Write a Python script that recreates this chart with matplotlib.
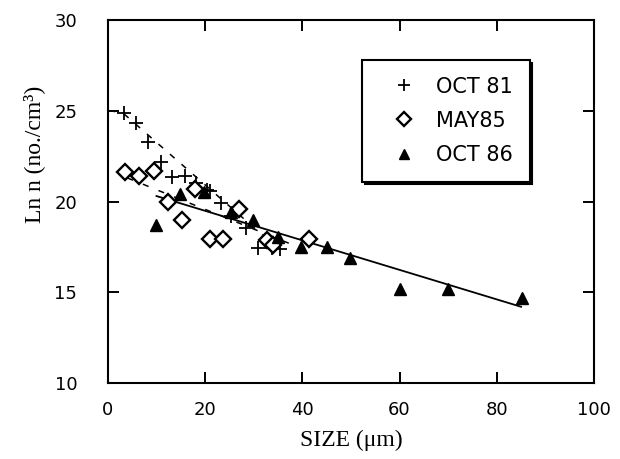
import matplotlib
matplotlib.use("Agg")
import matplotlib.pyplot as plt

# data (size in um, ln n)
oct81_x = [3.3, 5.8, 8.3, 11.0, 13.1, 15.8, 18.2, 20.3, 21.0, 23.2, 25.4, 28.4, 30.8, 33.7, 35.5]
oct81_y = [24.9, 24.3, 23.3, 22.2, 21.35, 21.4, 21.0, 20.65, 20.6, 19.9, 19.2, 18.55, 17.45, 17.45, 17.4]

may85_x = [3.5, 6.4, 9.5, 12.4, 15.2, 18.0, 21.0, 23.7, 27.0, 32.7, 34.0, 41.3]
may85_y = [21.6, 21.4, 21.7, 20.0, 19.0, 20.7, 17.95, 17.95, 19.6, 17.9, 17.6, 17.95]

oct86_x = [10.0, 14.8, 19.8, 25.3, 29.9, 35.0, 39.7, 45.0, 49.9, 60.0, 70.0, 85.1]
oct86_y = [18.7, 20.4, 20.5, 19.4, 19.0, 18.05, 17.5, 17.5, 16.9, 15.2, 15.2, 14.7]

# fitted lines (end points)
fit81_x = [0.3, 3.0, 35.0]
fit81_y = [25.0, 24.9, 17.4]
fit85_x = [4.0, 40.0]
fit85_y = [21.3, 17.4]
fit86_x = [10.0, 85.0]
fit86_y = [20.3, 14.2]

labels = ["OCT 81", "MAY85", "OCT 86"]

fig = plt.figure(figsize=(6.2, 4.59), dpi=100)
ax = fig.add_axes([0.174, 0.1656, 0.784, 0.7908])

ax.plot(fit81_x, fit81_y, color="black", lw=1.1, ls=(0, (4, 6)))
ax.plot(fit85_x, fit85_y, color="black", lw=1.1, ls=(0, (4, 7)))
ax.plot(fit86_x, fit86_y, color="black", lw=1.3)

h1, = ax.plot(oct81_x, oct81_y, ls="none", marker="+", ms=10, mew=1.3, color="black")
h2, = ax.plot(may85_x, may85_y, ls="none", marker="D", ms=8, mew=1.7, mfc="white", mec="black")
h3, = ax.plot(oct86_x, oct86_y, ls="none", marker="^", ms=9, color="black")

ax.set_xlim(0, 100)
ax.set_ylim(10, 30)
ax.set_xticks([0, 20, 40, 60, 80, 100])
ax.set_yticks([10, 15, 20, 25, 30])

for s in ax.spines.values():
    s.set_linewidth(1.5)
ax.tick_params(direction="in", length=8, width=1.4, top=True, right=True,
               labelsize=13)
ax.tick_params(axis="y", pad=22)
ax.tick_params(axis="x", pad=13)
for t in ax.get_xticklabels() + ax.get_yticklabels():
    t.set_family("DejaVu Sans")

ax.set_xlabel("SIZE (\u03bcm)", family="Liberation Serif", fontsize=17)
ax.set_ylabel("Ln n (no./cm\u00b3)", family="Liberation Serif", fontsize=17)
ax.xaxis.set_label_coords(0.5, -0.13)
ax.yaxis.set_label_coords(-0.13, 0.63)

leg = ax.legend([h1, h2, h3], labels, loc="upper left",
                bbox_to_anchor=(0.523, 0.89), frameon=True, fancybox=False,
                shadow={"color": "black", "alpha": 1.0},
                prop={"family": "DejaVu Sans", "size": 15},
                markerscale=0.85, handlelength=2.4, handletextpad=0.35,
                borderpad=0.8, labelspacing=0.68, borderaxespad=0)
leg.get_frame().set_edgecolor("black")
leg.get_frame().set_linewidth(1.5)

fig.savefig("out.png", dpi=100)
